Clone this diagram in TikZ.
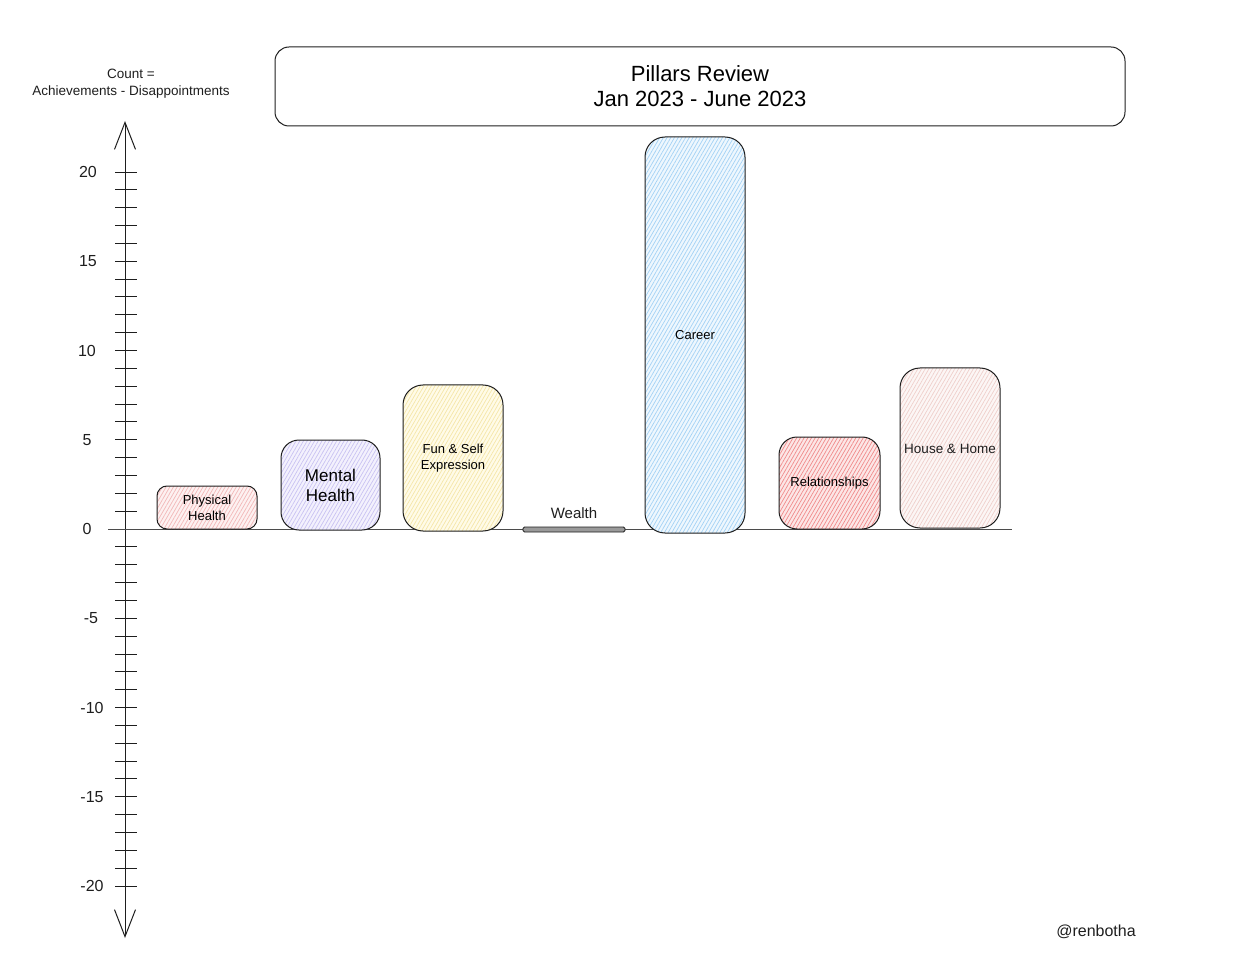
\documentclass[tikz,border=0pt]{standalone}
\usepackage{fontspec}
\setmainfont{Liberation Sans}
\usetikzlibrary{patterns.meta,arrows.meta}
\definecolor{ink}{HTML}{1E1E1E}
\definecolor{physP}{HTML}{F2B8B8}\definecolor{physF}{HTML}{FDF1F1}
\definecolor{mentP}{HTML}{C9C2F2}\definecolor{mentF}{HTML}{F3F1FD}
\definecolor{funP}{HTML}{F5E6A8}\definecolor{funF}{HTML}{FFFBE8}
\definecolor{carP}{HTML}{A3D2F5}\definecolor{carF}{HTML}{EEF7FE}
\definecolor{relP}{HTML}{F08A8A}\definecolor{relF}{HTML}{FCE6E6}
\definecolor{houP}{HTML}{EFCFCB}\definecolor{houF}{HTML}{FCF6F5}
\definecolor{wealthF}{HTML}{9A9A9A}
\begin{document}
\begin{tikzpicture}[x=1pt,y=-1pt,
  barbox/.style={draw=ink,line width=1pt,inner sep=0pt,align=center,
    font=\fontsize{13}{16}\selectfont},
  hatch/.style 2 args={preaction={fill=#2},
    pattern={Lines[angle=60,distance=3.2pt,line width=0.7pt]},pattern color=#1},
  axlabel/.style={font=\fontsize{16}{18}\selectfont,text=ink},
  tick/.style={draw=ink,line width=0.9pt},
  axisline/.style={draw=ink,line width=1pt,{Straight Barb[length=27pt,width=21pt,line width=1pt]}-{Straight Barb[length=27pt,width=21pt,line width=1pt]}},
  baseline/.style={draw=ink!80,line width=0.9pt}
]
\useasboundingbox (0,0) rectangle (1234,973);

% title
\node[draw=ink,line width=1pt,rounded corners=14pt,minimum width=850pt,minimum height=79pt,
  align=center,font=\fontsize{22}{25}\selectfont] (title) at (700,86.5)
  {Pillars Review\\Jan 2023 - June 2023};

% axis caption
\node[align=center,font=\fontsize{13.5}{17}\selectfont,text=ink] (caption) at (131,84)
  {Count =\\Achievements - Disappointments};

% axis
\coordinate (axtop) at (125,121);
\coordinate (axbot) at (125,938);
\draw[axisline] (axbot) -- (axtop);
\foreach \i in {-20,...,20}{
  \draw[tick] (115,{529-17.85*\i}) -- (137,{529-17.85*\i});
}
\foreach \v/\xx in {20/88,15/88,10/87,5/87,0/87,-5/91,-10/92,-15/92,-20/92}{
  \node[axlabel] (lab\v) at (\xx,{529-17.85*\v}) {\v};
}

% baseline
\coordinate (bl) at (108,529.5);
\coordinate (br) at (1012,529.5);
\draw[baseline] (bl) -- (br);

% bars
\node[barbox,rounded corners=10pt,minimum width=100pt,minimum height=43pt,hatch={physP}{physF}]
  (phys) at (207,507.5) {Physical\\Health};
\node[barbox,rounded corners=18pt,minimum width=99pt,minimum height=90pt,hatch={mentP}{mentF},
  font=\fontsize{17}{20}\selectfont] (ment) at (330.5,485) {Mental\\Health};
\node[barbox,rounded corners=20pt,minimum width=100pt,minimum height=146pt,hatch={funP}{funF}]
  (fun) at (453,458) {Fun \& Self\\Expression};
\node[draw=ink,line width=0.9pt,fill=wealthF,rounded corners=1.5pt,inner sep=0pt,
  minimum width=102pt,minimum height=5pt] (wealth) at (574,529.5) {};
\node[font=\fontsize{15}{17}\selectfont,text=ink] (wealthlab) at (574,513) {Wealth};
\node[barbox,rounded corners=20pt,minimum width=100pt,minimum height=396pt,hatch={carP}{carF}]
  (career) at (695,335) {Career};
\node[barbox,rounded corners=18pt,minimum width=101pt,minimum height=92pt,hatch={relP}{relF}]
  (rel) at (829.5,483) {Relationships};
\node[barbox,rounded corners=20pt,minimum width=100pt,minimum height=160pt,hatch={houP}{houF}]
  (house) at (950,448) {};
\node[font=\fontsize{13.5}{16}\selectfont,text=ink] (houselab) at (950,449) {House \& Home};

% signature
\node[font=\fontsize{16}{18}\selectfont,text=ink] (sig) at (1096,932) {@renbotha};
\end{tikzpicture}
\end{document}
